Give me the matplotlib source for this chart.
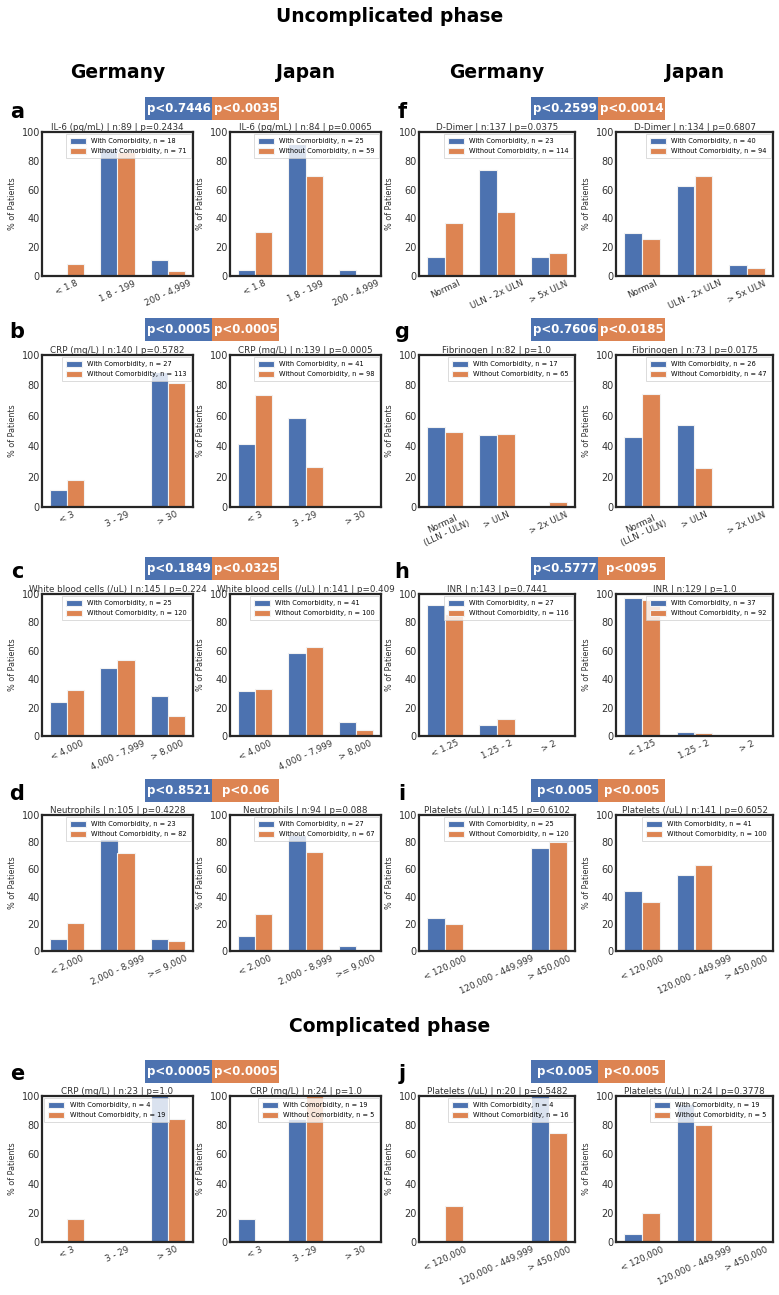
import matplotlib
matplotlib.use("Agg")
import matplotlib.pyplot as plt
import numpy as np
from matplotlib.patches import Rectangle

BLUE = "#4c72b0"
ORANGE = "#dd8452"

# ---- categories ----
il6_cats = ["< 1.8", "1.8 - 199", "200 - 4,999"]
crp_cats = ["< 3", "3 - 29", "> 30"]
wbc_cats = ["< 4,000", "4,000 - 7,999", "> 8,000"]
neu_cats = ["< 2,000", "2,000 - 8,999", ">= 9,000"]
ddimer_cats = ["Normal", "ULN - 2x ULN", "> 5x ULN"]
fib_cats = ["Normal\n(LLN - ULN)", "> ULN", "> 2x ULN"]
inr_cats = ["< 1.25", "1.25 - 2", "> 2"]
plt_cats = ["< 120,000", "120,000 - 449,999", "> 450,000"]

# ---- values (% of patients): with / without comorbidity ----
il6_de_with = [0, 88.9, 11.1]
il6_de_without = [8.5, 85.9, 3.8]
il6_jp_with = [4, 92, 4]
il6_jp_without = [30.5, 69.5, 0]

crp_de_with = [11.1, 0, 88.9]
crp_de_without = [17.7, 0, 81.4]
crp_jp_with = [41.5, 58.5, 0]
crp_jp_without = [73.5, 26.5, 0]

wbc_de_with = [24, 48, 28]
wbc_de_without = [32.5, 53.3, 14.2]
wbc_jp_with = [31.7, 58.5, 9.8]
wbc_jp_without = [33, 63, 4]

neu_de_with = [8.7, 82.6, 8.7]
neu_de_without = [20.7, 72, 7.3]
neu_jp_with = [11.1, 85.2, 3.7]
neu_jp_without = [26.9, 73.1, 0]

crpc_de_with = [0, 0, 100]
crpc_de_without = [15.8, 0, 84.2]
crpc_jp_with = [15.8, 84.2, 0]
crpc_jp_without = [0, 100, 0]

ddimer_de_with = [13, 73.9, 13]
ddimer_de_without = [36.8, 44.7, 15.8]
ddimer_jp_with = [30, 62.5, 7.5]
ddimer_jp_without = [25.5, 69.1, 5.3]

fib_de_with = [52.9, 47.1, 0]
fib_de_without = [49.2, 47.7, 3.1]
fib_jp_with = [46.2, 53.8, 0]
fib_jp_without = [74.5, 25.5, 0]

inr_de_with = [92.6, 7.4, 0]
inr_de_without = [86.2, 12.1, 0]
inr_jp_with = [97.3, 2.7, 0]
inr_jp_without = [95.7, 2.2, 0]

plt_de_with = [24, 0, 76]
plt_de_without = [20, 0, 80]
plt_jp_with = [43.9, 56.1, 0]
plt_jp_without = [36, 63, 0]

pltc_de_with = [0, 0, 100]
pltc_de_without = [25, 0, 75]
pltc_jp_with = [5.3, 94.7, 0]
pltc_jp_without = [20, 80, 0]

# ---- panel texts ----
panel_letters = ["a", "b", "c", "d", "e", "f", "g", "h", "i", "j"]
p_with = ["p<0.7446", "p<0.0005", "p<0.1849", "p<0.8521", "p<0.0005",
          "p<0.2599", "p<0.7606", "p<0.5777", "p<0.005", "p<0.005"]
p_without = ["p<0.0035", "p<0.0005", "p<0.0325", "p<0.06", "p<0.0005",
             "p<0.0014", "p<0.0185", "p<0095", "p<0.005", "p<0.005"]
titles_de = ["IL-6 (pg/mL) | n:89 | p=0.2434", "CRP (mg/L) | n:140 | p=0.5782",
             "White blood cells (/uL) | n:145 | p=0.224", "Neutrophils | n:105 | p=0.4228",
             "CRP (mg/L) | n:23 | p=1.0", "D-Dimer | n:137 | p=0.0375",
             "Fibrinogen | n:82 | p=1.0", "INR | n:143 | p=0.7441",
             "Platelets (/uL) | n:145 | p=0.6102", "Platelets (/uL) | n:20 | p=0.5482"]
titles_jp = ["IL-6 (pg/mL) | n:84 | p=0.0065", "CRP (mg/L) | n:139 | p=0.0005",
             "White blood cells (/uL) | n:141 | p=0.409", "Neutrophils | n:94 | p=0.088",
             "CRP (mg/L) | n:24 | p=1.0", "D-Dimer | n:134 | p=0.6807",
             "Fibrinogen | n:73 | p=0.0175", "INR | n:129 | p=1.0",
             "Platelets (/uL) | n:141 | p=0.6052", "Platelets (/uL) | n:24 | p=0.3778"]
n_de = [(18, 71), (27, 113), (25, 120), (23, 82), (4, 19),
        (23, 114), (17, 65), (27, 116), (25, 120), (4, 16)]
n_jp = [(25, 59), (41, 98), (41, 100), (27, 67), (19, 5),
        (40, 94), (26, 47), (37, 92), (41, 100), (19, 5)]

panels = [
    (il6_cats, il6_de_with, il6_de_without, il6_jp_with, il6_jp_without),
    (crp_cats, crp_de_with, crp_de_without, crp_jp_with, crp_jp_without),
    (wbc_cats, wbc_de_with, wbc_de_without, wbc_jp_with, wbc_jp_without),
    (neu_cats, neu_de_with, neu_de_without, neu_jp_with, neu_jp_without),
    (crp_cats, crpc_de_with, crpc_de_without, crpc_jp_with, crpc_jp_without),
    (ddimer_cats, ddimer_de_with, ddimer_de_without, ddimer_jp_with, ddimer_jp_without),
    (fib_cats, fib_de_with, fib_de_without, fib_jp_with, fib_jp_without),
    (inr_cats, inr_de_with, inr_de_without, inr_jp_with, inr_jp_without),
    (plt_cats, plt_de_with, plt_de_without, plt_jp_with, plt_jp_without),
    (plt_cats, pltc_de_with, pltc_de_without, pltc_jp_with, pltc_jp_without),
]

# ---- layout (pixels) ----
W, H = 779, 1295
col_x = [(42, 193), (230, 381), (419, 575), (616, 773)]
row_y = [(132, 276), (355, 507), (594, 736), (815, 951), (1096, 1242)]
box_top = [97, 318, 557, 779, 1060]
box_cx = [212, 598]
box_hw, box_h = 67, 23
letter_x = [17, 402]

fig = plt.figure(figsize=(W / 100, H / 100), dpi=100)


def px_rect(l, t, r, b):
    return [l / W, 1 - b / H, (r - l) / W, (b - t) / H]


def draw_bars(ax, cats, with_vals, without_vals, title, n, loc):
    x = np.arange(len(cats))
    w = 0.34
    ax.bar(x - w / 2, with_vals, w, color=BLUE, edgecolor="#f2f2f2", linewidth=0.8,
           label=f"With Comorbidity, n = {n[0]}")
    ax.bar(x + w / 2, without_vals, w, color=ORANGE, edgecolor="#f2f2f2", linewidth=0.8,
           label=f"Without Comorbidity, n = {n[1]}")
    ax.set_xlim(-0.5, len(cats) - 0.5)
    ax.set_ylim(0, 100)
    ax.set_yticks(range(0, 101, 20))
    ax.set_xticks(x)
    ax.set_xticklabels(cats, rotation=25, fontsize=6.3, color="#333333")
    ax.tick_params(axis="y", labelsize=7, colors="#333333", length=0, pad=1.5)
    ax.tick_params(axis="x", length=0, pad=2)
    ax.set_ylabel("% of Patients", fontsize=5.8, color="#333333", labelpad=3)
    ax.set_title(title, fontsize=6.3, color="#333333", pad=1)
    for s in ax.spines.values():
        s.set_linewidth(1.6)
        s.set_color("#262626")
    leg = ax.legend(loc=loc, fontsize=4.8, borderaxespad=0.35, handlelength=2.4,
                    handleheight=0.8, labelspacing=0.6, borderpad=0.6, fancybox=False,
                    framealpha=0.8)
    leg.get_frame().set_edgecolor("#cccccc")
    leg.get_frame().set_linewidth(0.6)


for i, (cats, de_w, de_wo, jp_w, jp_wo) in enumerate(panels):
    group = i // 5
    row = i % 5
    t, b = row_y[row]
    l1, r1 = col_x[2 * group]
    l2, r2 = col_x[2 * group + 1]
    ax1 = fig.add_axes(px_rect(l1, t, r1, b))
    ax2 = fig.add_axes(px_rect(l2, t, r2, b))
    loc1 = "upper left" if i == 4 else "upper right"
    draw_bars(ax1, cats, de_w, de_wo, titles_de[i], n_de[i], loc1)
    draw_bars(ax2, cats, jp_w, jp_wo, titles_jp[i], n_jp[i], "upper right")

    # p-value boxes
    cx = box_cx[group]
    bt = box_top[row]
    for k, (txt, col) in enumerate([(p_with[i], BLUE), (p_without[i], ORANGE)]):
        x0 = cx - box_hw + k * box_hw
        fig.add_artist(Rectangle((x0 / W, 1 - (bt + box_h) / H), box_hw / W, box_h / H,
                                 transform=fig.transFigure, facecolor=col, edgecolor="none"))
        fig.text((x0 + box_hw / 2) / W, 1 - (bt + box_h / 2) / H, txt, color="white",
                 fontsize=8.5, fontweight="bold", ha="center", va="center")
    fig.text(letter_x[group] / W, 1 - (bt + box_h / 2 + 3) / H, panel_letters[i],
             fontsize=15, fontweight="bold", ha="center", va="center")

# headings
fig.text(390 / W, 1 - 16 / H, "Uncomplicated phase", fontsize=13.5, fontweight="bold",
         ha="center", va="center")
fig.text(390 / W, 1 - 1027 / H, "Complicated phase", fontsize=13.5, fontweight="bold",
         ha="center", va="center")
for (l, r), name in zip(col_x, ["Germany", "Japan", "Germany", "Japan"]):
    fig.text((l + r) / 2 / W, 1 - 73 / H, name, fontsize=13.5, fontweight="bold",
             ha="center", va="center")

fig.savefig("out.png", dpi=100)
